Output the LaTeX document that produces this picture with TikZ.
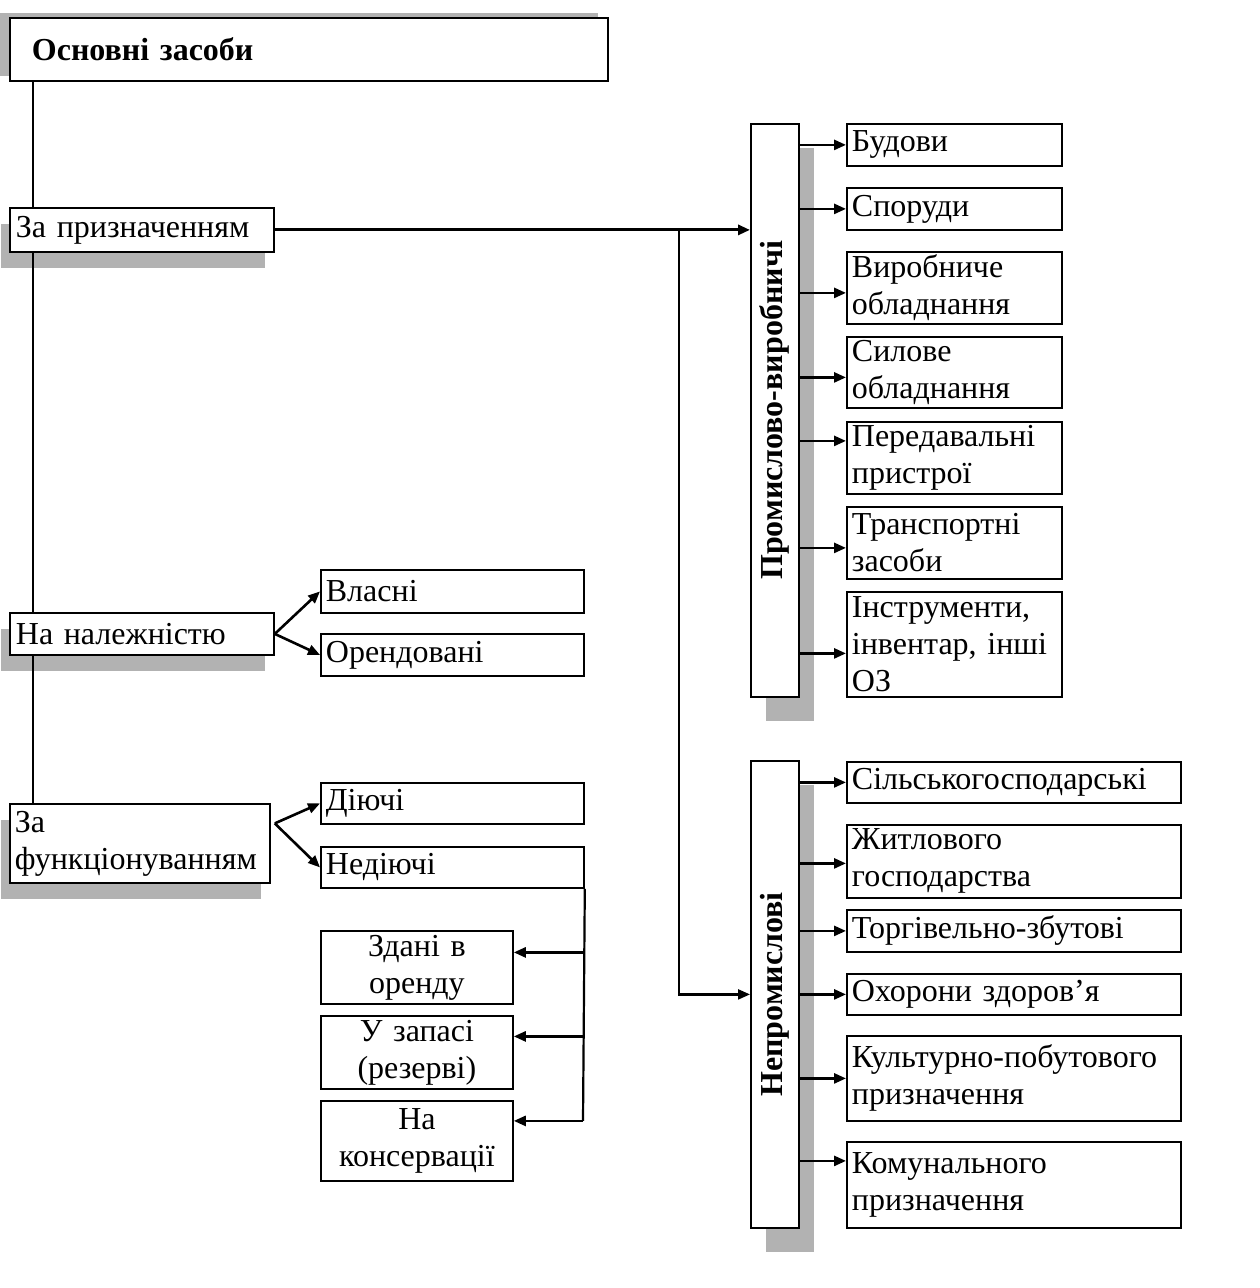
\documentclass[tikz,border=0pt]{standalone}
\usepackage{fontspec}
\setmainfont{Liberation Serif}
\usepackage{graphicx}
\usetikzlibrary{arrows.meta,calc,shadows}

\begin{document}
\begin{tikzpicture}[
    x=0.5pt, y=-0.5pt,
    >={Triangle[length=6pt,width=5pt]},
    box/.style={draw, fill=white, rectangle, anchor=north west, line width=0.9pt, inner xsep=2.5pt, inner ysep=0pt, align=left, font=\fontsize{16}{18.5}\selectfont},
    midbox/.style={box, align=center},
    vbox/.style={box, inner sep=0pt, minimum width=24pt, font=\fontsize{16}{18.5}\selectfont\bfseries},
    shadtop/.style={drop shadow={shadow xshift=-5pt, shadow yshift=2.5pt, fill=gray!60, opacity=1}},
    shadleft/.style={drop shadow={shadow xshift=-4.5pt, shadow yshift=-8pt, fill=gray!60, opacity=1}},
    shadright/.style={drop shadow={shadow xshift=7.5pt, shadow yshift=-12pt, fill=gray!60, opacity=1}},
    trunk/.style={line width=1pt},
    line/.style={line width=1.1pt},
    arr/.style={->, line width=1.3pt}
]
    \useasboundingbox (0,0) rectangle (1259,1288);

    % Ліва колонка (ознаки класифікації)
    \node[box, shadtop, inner xsep=11pt, text width=277pt, minimum height=31.5pt, font=\fontsize{16}{18.5}\selectfont\bfseries] (osn) at (9,17) {Основні засоби};
    \node[box, shadleft, inner xsep=3pt, text width=126pt, minimum height=22pt] (prizn) at (9,207) {За призначенням};
    \node[box, shadleft, inner xsep=3pt, text width=126pt, minimum height=21pt] (nalezh) at (9,612) {На належністю};
    \node[box, shadleft, inner xsep=2.5pt, text width=125pt, minimum height=39.5pt] (funk) at (9,803) {За\\функціонуванням};

    % Середня колонка
    \node[box, text width=126.5pt, minimum height=21.5pt] (vlasni) at (320,569) {Власні};
    \node[box, text width=126.5pt, minimum height=21pt] (orend) at (320,633) {Орендовані};
    \node[box, text width=126.5pt, minimum height=20.5pt] (diyuchi) at (320,782) {Діючі};
    \node[box, text width=126.5pt, minimum height=20.5pt] (nediyuchi) at (320,846) {Недіючі};
    \node[midbox, text width=91pt, minimum height=36.5pt] (zdani) at (320,930) {Здані в\\оренду};
    \node[midbox, text width=91pt, minimum height=36.5pt] (zapas) at (320,1015) {У запасі\\(резерві)};
    \node[midbox, text width=91pt, minimum height=40pt] (konserv) at (320,1100) {На\\консервації};

    % Вертикальні блоки
    \node[vbox, shadright, minimum height=286.5pt] (prom) at (750,123) {\rotatebox{90}{Промислово-виробничі}};
    \node[vbox, shadright, minimum height=233.5pt] (neprom) at (750,760) {\rotatebox{90}{Непромислові}};

    % Промислово-виробничі
    \node[box, text width=102.5pt, minimum height=21pt] (bud) at (846,123) {Будови};
    \node[box, text width=102.5pt, minimum height=21pt] (spor) at (846,187) {Споруди};
    \node[box, text width=102.5pt, minimum height=36pt] (vyrob) at (846,251) {Виробниче\\обладнання};
    \node[box, text width=102.5pt, minimum height=35.5pt] (sylove) at (846,336) {Силове\\обладнання};
    \node[box, text width=102.5pt, minimum height=36pt] (pered) at (846,421) {Передавальні\\пристрої};
    \node[box, text width=102.5pt, minimum height=36pt] (transp) at (846,506) {Транспортні\\засоби};
    \node[box, text width=102.5pt, minimum height=52.5pt] (instr) at (846,591) {Інструменти,\\інвентар, інші\\ОЗ};

    % Непромислові
    \node[box, text width=162pt, minimum height=20.5pt] (silsk) at (846,761) {Сільськогосподарські};
    \node[box, text width=162pt, minimum height=36.5pt] (zhytl) at (846,824) {Житлового\\господарства};
    \node[box, text width=162pt, minimum height=21pt] (torg) at (846,909) {Торгівельно-збутові};
    \node[box, text width=162pt, minimum height=20.5pt] (ohor) at (846,973) {Охорони здоров’я};
    \node[box, text width=162pt, minimum height=42.5pt] (kult) at (846,1035) {Культурно-побутового\\призначення};
    \node[box, text width=162pt, minimum height=43pt] (komun) at (846,1141) {Комунального\\призначення};

    % Стовбур зліва
    \coordinate (trk) at (33,0);
    \draw[trunk] (osn.south -| trk) -- (prizn.north -| trk);
    \draw[trunk] (prizn.south -| trk) -- (nalezh.north -| trk);
    \draw[trunk] (nalezh.south -| trk) -- (funk.north -| trk);

    % За призначенням
    \coordinate (split) at (679,0);
    \draw[arr, line width=1.5pt] (prizn.east) -- (prizn.east -| prom.west);
    \draw[line, ->] (prizn.east -| split) |- (neprom.west |- ohor.west);

    % На належністю
    \draw[arr] (nalezh.east) -- (vlasni.west);
    \draw[arr] (nalezh.east) -- (orend.west);

    % За функціонуванням
    \coordinate (fork) at ($(funk.east)+(4,-20)$);
    \draw[arr] (fork) -- (diyuchi.west);
    \draw[arr] (fork) -- (nediyuchi.west);

    % Недіючі
    \coordinate (rail) at (583,0);
    \coordinate (kn) at ($(konserv.east)+(0,-20)$);
    \draw[line] (nediyuchi.south east) -- (kn -| rail);
    \foreach \n/\d in {zdani/-15, zapas/-16, konserv/-20} {
        \coordinate (t) at ($(\n.east)+(0,\d)$);
        \draw[arr] (t -| rail) -- (t);
    }

    % Стрілки до підвидів
    \foreach \n/\d in {bud/0, spor/0, vyrob/5, sylove/5, pered/-17, transp/5, instr/9} {
        \coordinate (t) at ($(\n.west)+(0,\d)$);
        \draw[arr] (prom.east |- t) -- (t);
    }
    \foreach \n/\d in {silsk/0, zhytl/2, torg/0, ohor/0, kult/0, komun/-24} {
        \coordinate (t) at ($(\n.west)+(0,\d)$);
        \draw[arr] (neprom.east |- t) -- (t);
    }

\end{tikzpicture}
\end{document}
